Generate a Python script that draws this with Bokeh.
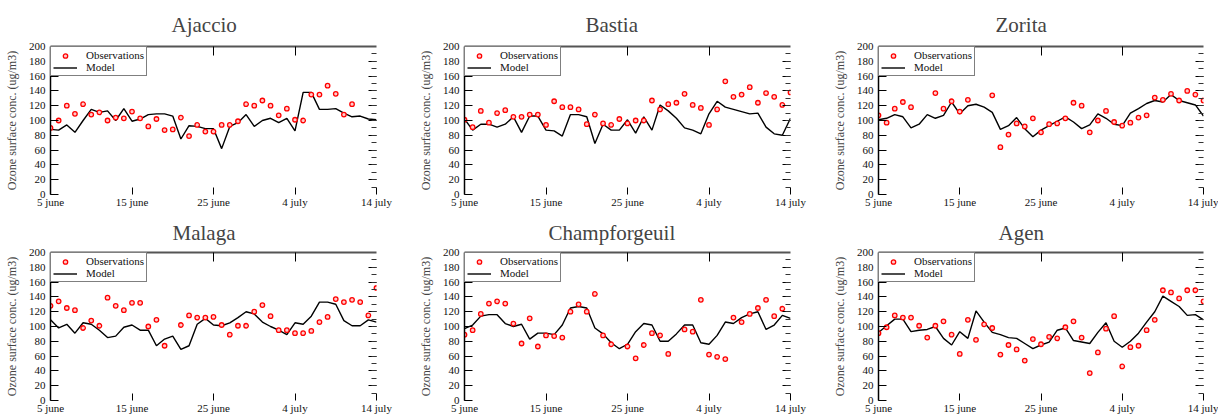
import numpy as np
from bokeh.plotting import figure
from bokeh.layouts import gridplot
from bokeh.models import (Range1d, LinearAxis, FixedTicker, Legend, LegendItem, ColumnDataSource,
                          CustomLabelingPolicy)
from bokeh.embed import file_html
from bokeh.resources import INLINE

nan = float("nan")

days = list(range(41))
tick_days = [0, 10, 20, 30, 40]
tick_labels = ["5 june", "15 june", "25 june", "4 july", "14 july"]
y_ticks = list(range(0, 201, 20))
y_minor = list(range(0, 201, 10))

stations = ["Ajaccio", "Bastia", "Zorita", "Malaga", "Champforgeuil", "Agen"]

ajaccio_model = [88, 87, 94, 84, 100, 115, 111, 113, 100, 116, 99, 102, 108, 109, 109, 106, 75, 93, 92, 89,
                 89, 62, 92, 97, 108, 92, 100, 103, 97, 103, 86, 138, 138, 115, 115, 116, 110, 105, 106, 102, 101]
ajaccio_obs = [90, 100, 120, 109, 122, 108, 111, 100, 104, 103, 112, 103, 92, 102, 87, 88, 104, 79, 94, 85,
               85, 94, 94, 99, 122, 120, 127, 120, 107, 116, 101, 100, 135, 135, 147, 136, 108, 122, nan, nan, nan]

bastia_model = [102, 87, 95, 95, 91, 95, 105, 84, 106, 106, 87, 86, 79, 108, 108, 105, 69, 95, 87, 87,
                101, 83, 105, 87, 121, 113, 103, 90, 87, 82, 109, 126, 118, 115, 112, 109, 110, 91, 82, 80, 103]
bastia_obs = [101, 91, 113, 97, 110, 114, 105, 105, 108, 108, 94, 126, 118, 118, 115, 95, 108, 96, 94, 102,
              96, 100, 100, 127, 115, 122, 124, 136, 121, 117, 94, 115, 153, 132, 135, 145, 124, 137, 132, 121, 138]

zorita_model = [101, 103, 108, 105, 90, 95, 108, 103, 107, 125, 109, 120, 122, 118, 111, 88, 93, 104, 89, 78,
                87, 93, 99, 105, 98, 89, 94, 109, 103, 95, 93, 110, 116, 123, 127, 125, 135, 127, 124, 121, 106]
zorita_obs = [107, 97, 116, 125, 118, nan, nan, 137, 116, 126, 112, 128, nan, nan, 134, 64, 81, 96, 92, 103,
              84, 95, 96, 103, 124, 120, 84, 100, 113, 98, 93, 97, 104, 107, 131, 128, 136, 127, 140, 135, 127]

malaga_model = [109, 98, 103, 91, 105, 103, 95, 85, 87, 99, 102, 95, 95, 74, 83, 87, 69, 74, 103, 111,
                102, 101, 105, 112, 120, 117, 106, 100, 95, 89, 105, 103, 114, 133, 133, 130, 108, 101, 101, 109, 106]
malaga_obs = [128, 134, 125, 122, 98, 108, 101, 139, 128, 122, 132, 132, 100, 109, 74, nan, 102, 115, 112, 112,
              113, 102, 89, 101, 101, 120, 129, 114, 95, 95, 91, 91, 94, 106, 113, 137, 133, 136, 133, 115, 152]

champ_model = [97, 102, 114, 116, 116, 104, 100, 103, 83, 91, 91, 89, 102, 125, 127, 125, 98, 90, 78, 70,
               76, 93, 104, 102, 80, 80, 90, 102, 102, 78, 76, 88, 106, 104, 112, 117, 120, 96, 102, 115, 111]
champ_obs = [89, 95, 117, 131, 134, 131, 104, 77, 111, 73, 88, 87, 85, 120, 130, 120, 144, 88, 76, nan,
             73, 57, 75, 91, 88, 63, nan, 96, 93, 136, 62, 59, 56, 112, 106, 117, 125, 136, 114, 124, nan]

agen_model = [92, 101, 110, 110, 93, 95, 96, 100, 84, 75, 93, 84, 121, 106, 92, 89, 85, 84, 77, 70,
              75, 79, 95, 98, 81, 79, 77, 92, 105, 80, 72, 80, 91, 106, 120, 141, 134, 127, 115, 116, 109]
agen_obs = [91, 99, 115, 112, 112, 101, 85, 101, 107, 89, 63, 109, 82, 103, 98, 62, 75, 69, 54, 83,
            76, 86, 84, 99, 107, 85, 37, 65, 97, 114, 46, 72, 74, 95, 109, 149, 146, 138, 149, 149, 134]

models = [ajaccio_model, bastia_model, zorita_model, malaga_model, champ_model, agen_model]
observations = [ajaccio_obs, bastia_obs, zorita_obs, malaga_obs, champ_obs, agen_obs]

FONT = "Liberation Serif"

widths = [414, 414, 390]
rights = [38, 38, 15]
title_offsets = [121, 121, 117, 122, 84, 120]
row_heights = [210, 206]
row_tops = [44, 40]
title_standoffs = [20, 16]

HIDE_LABELS = "const all = [...indices]; for (const i of all) indices.unset(i); return indices"


def make_panel(k):
    col = k % 3
    row = k // 3
    h = row_heights[row]
    top = row_tops[row]
    bottom = h - top - 152
    p = figure(width=widths[col], height=h, output_backend="svg", toolbar_location=None,
               x_range=Range1d(0, 40), y_range=Range1d(0, 200),
               min_border_left=50, min_border_right=rights[col],
               min_border_top=top, min_border_bottom=bottom)
    p.title.text = stations[k]
    p.title.text_font = FONT
    p.title.text_font_size = "21px"
    p.title.text_font_style = "normal"
    p.title.align = "left"
    p.title.offset = title_offsets[k]
    p.title.standoff = title_standoffs[row]
    p.outline_line_color = None
    p.xgrid.visible = False
    p.ygrid.visible = False
    p.background_fill_color = "white"
    p.border_fill_color = "white"

    # bottom axis
    xa = p.xaxis[0]
    xa.ticker = FixedTicker(ticks=tick_days)
    xa.major_label_overrides = {d: l for d, l in zip(tick_days, tick_labels)}
    xa.axis_line_color = None
    xa.major_tick_in = 7
    xa.major_tick_out = 0
    xa.minor_tick_line_color = None
    xa.major_label_standoff = 1
    xa.major_label_text_font = FONT
    xa.major_label_text_font_size = "11px"
    xa.major_label_text_color = "#111111"

    # left axis
    ya = p.yaxis[0]
    ya.ticker = FixedTicker(ticks=y_ticks)
    ya.axis_line_color = "black"
    ya.axis_line_width = 1.5
    ya.major_tick_in = 8
    ya.major_tick_out = 0
    ya.minor_tick_line_color = None
    ya.major_label_standoff = 5
    ya.major_label_text_font = FONT
    ya.major_label_text_font_size = "11px"
    ya.major_label_text_color = "#111111"
    ya.axis_label = "Ozone surface conc. (ug/m3)"
    ya.axis_label_text_font = FONT
    ya.axis_label_text_font_size = "12px"
    ya.axis_label_text_font_style = "normal"
    ya.axis_label_standoff = 7

    # top axis (frame line with inward ticks, no labels)
    ta = LinearAxis(ticker=FixedTicker(ticks=[10, 20, 30]), axis_line_color="#555555", axis_line_width=2,
                    major_tick_in=9, major_tick_out=0, minor_tick_line_color=None,
                    major_label_text_font_size="0px", major_label_standoff=0,
                    major_label_policy=CustomLabelingPolicy(code=HIDE_LABELS))
    p.add_layout(ta, "above")

    # right axis (ticks only)
    ra = LinearAxis(ticker=FixedTicker(ticks=y_ticks[1:-1], minor_ticks=y_minor[1:-1]),
                    axis_line_color=None, major_tick_in=8, major_tick_out=0,
                    minor_tick_in=5, minor_tick_out=0, minor_tick_line_color="#333333",
                    major_label_text_font_size="0px", major_label_standoff=0,
                    major_label_policy=CustomLabelingPolicy(code=HIDE_LABELS))
    p.add_layout(ra, "right")

    src = ColumnDataSource(dict(x=days, model=np.array(models[k], dtype=float),
                                obs=np.array(observations[k], dtype=float)))
    ln = p.line("x", "model", source=src, line_color="black", line_width=1.4)
    sc = p.scatter("x", "obs", source=src, marker="circle", size=4.5, line_color="red",
                   line_width=1.3, fill_color="#ffcccc")

    legend = Legend(items=[LegendItem(label="Observations", renderers=[sc]),
                           LegendItem(label="Model", renderers=[ln])],
                    location="top_left", margin=0, padding=2, spacing=0,
                    label_height=11, glyph_height=11, glyph_width=24, label_standoff=9,
                    label_text_font=FONT, label_text_font_size="11px", label_text_color="#111111",
                    border_line_color="black", border_line_width=1,
                    background_fill_color="white", background_fill_alpha=1)
    p.add_layout(legend, "center")
    return p


panels = [make_panel(k) for k in range(6)]
grid = gridplot([panels[0:3], panels[3:6]], toolbar_location=None)

open("out.html", "w").write(file_html(grid, INLINE))
